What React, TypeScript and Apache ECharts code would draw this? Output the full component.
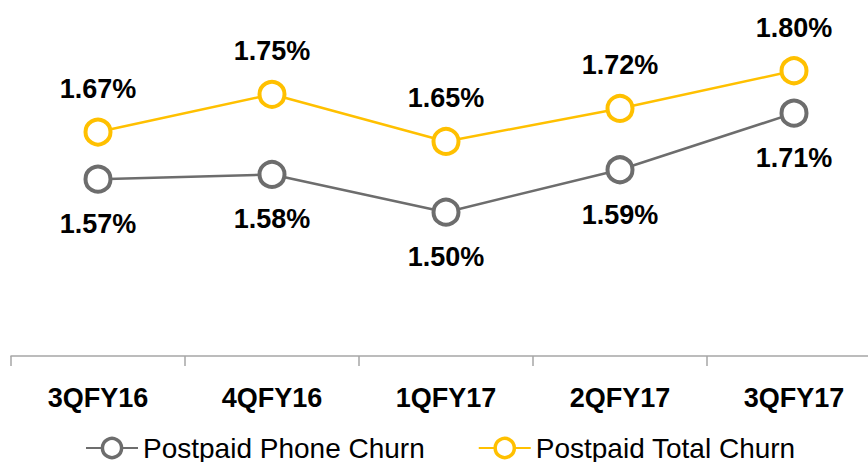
import React, { useEffect, useRef } from "react";
import * as echarts from "echarts";

const categories = ["3QFY16", "4QFY16", "1QFY17", "2QFY17", "3QFY17"];
const phoneChurn = [1.57, 1.58, 1.5, 1.59, 1.71];
const totalChurn = [1.67, 1.75, 1.65, 1.72, 1.8];

const FONT = "Liberation Sans";

export default function App() {
  const ref = useRef<HTMLDivElement>(null);
  useEffect(() => {
    if (!ref.current) return;
    const chart = echarts.init(ref.current, undefined, { renderer: "svg" });
    const labelStyle = {
      show: true,
      fontFamily: FONT,
      fontWeight: "bold" as const,
      fontSize: 27,
      color: "#000",
      formatter: (p: any) => p.value.toFixed(2) + "%",
    };
    chart.setOption({
      animation: false,
      backgroundColor: "#fff",
      grid: { left: 11, top: -5, width: 870, height: 361, containLabel: false },
      xAxis: {
        type: "category",
        data: categories,
        boundaryGap: true,
        axisLine: { lineStyle: { color: "#a6a6a6", width: 1.5 } },
        axisTick: { show: true, length: 10, lineStyle: { color: "#a6a6a6", width: 1.5 } },
        axisLabel: {
          fontFamily: FONT,
          fontWeight: "bold",
          fontSize: 27,
          color: "#000",
          margin: 28,
        },
      },
      yAxis: {
        type: "value",
        min: 1.195,
        max: 1.95,
        show: false,
        splitLine: { show: false },
      },
      legend: {
        left: 85,
        top: 434,
        padding: 0,
        itemGap: 53,
        itemWidth: 52,
        itemHeight: 24,
        itemStyle: { borderWidth: 3.5 },
        textStyle: { fontFamily: FONT, fontSize: 28, lineHeight: 24, color: "#000" },
        data: ["Postpaid Phone Churn", "Postpaid Total Churn"],
      },
      series: [
        {
          name: "Postpaid Phone Churn",
          type: "line",
          data: phoneChurn,
          symbol: "circle",
          symbolSize: 25,
          color: "#6d6d6d",
          lineStyle: { color: "#6d6d6d", width: 2.5 },
          itemStyle: { color: "#fff", borderColor: "#6d6d6d", borderWidth: 4 },
          label: { ...labelStyle, position: "bottom", distance: 17 },
        },
        {
          name: "Postpaid Total Churn",
          type: "line",
          data: totalChurn,
          symbol: "circle",
          symbolSize: 25,
          color: "#ffc000",
          lineStyle: { color: "#ffc000", width: 2.5 },
          itemStyle: { color: "#fff", borderColor: "#ffc000", borderWidth: 4 },
          label: { ...labelStyle, position: "top", distance: 15 },
        },
      ],
    });
    return () => chart.dispose();
  }, []);
  return (
    <div
      ref={ref}
      style={{ position: "fixed", left: 0, top: 0, width: 892, height: 462, background: "#fff" }}
    />
  );
}
